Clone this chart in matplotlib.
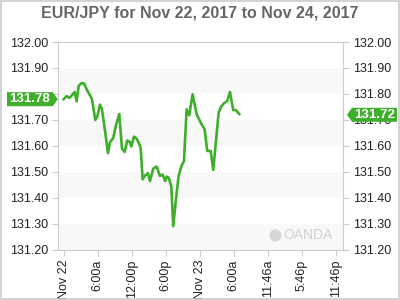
import matplotlib
matplotlib.use("Agg")
import matplotlib.pyplot as plt
from matplotlib.patches import Polygon, Rectangle
from matplotlib.transforms import blended_transform_factory
import numpy as np

plt.rcParams["font.family"] = ["Liberation Sans", "DejaVu Sans"]

# hours since Nov 22 00:00
hours = [0.0, 0.53, 0.99, 1.46, 1.94, 2.29, 2.65, 3.11, 3.58, 4.06, 4.64, 5.00,
         5.58, 5.93, 6.41, 6.76, 7.34, 7.82, 8.17, 8.75, 9.23, 9.81, 10.29, 10.76,
         11.22, 11.70, 11.93, 12.41, 12.88, 13.34, 13.59, 13.94, 14.40, 14.88, 15.23,
         15.81, 16.41, 16.99, 17.47, 17.93, 18.17, 18.52, 18.99, 19.34, 19.82, 20.29,
         20.75, 21.23, 21.70, 22.16, 22.76, 23.47, 24.18, 24.88, 25.34, 25.94, 26.40,
         27.35, 27.81, 28.29, 28.87, 29.35, 29.93, 30.40, 30.99]
rates = [131.780, 131.792, 131.785, 131.795, 131.808, 131.772, 131.831, 131.841,
         131.841, 131.818, 131.795, 131.780, 131.700, 131.713, 131.759, 131.741,
         131.652, 131.572, 131.614, 131.631, 131.680, 131.723, 131.590, 131.577,
         131.621, 131.615, 131.598, 131.636, 131.628, 131.608, 131.592, 131.472,
         131.487, 131.495, 131.465, 131.513, 131.521, 131.485, 131.490, 131.465,
         131.482, 131.478, 131.446, 131.292, 131.395, 131.485, 131.521, 131.542,
         131.741, 131.718, 131.799, 131.722, 131.690, 131.664, 131.581, 131.581,
         131.508, 131.728, 131.752, 131.764, 131.773, 131.808, 131.738, 131.738,
         131.723]

xtick_pos = [0, 6, 12, 18, 24, 30, 36, 42, 48]
xtick_labels = ["Nov 22", "6:00a", "12:00p", "6:00p", "Nov 23", "6:00a",
                "11:46a", "5:46p", "11:46p"]
yticks = [131.20, 131.30, 131.40, 131.50, 131.60, 131.70, 131.80, 131.90, 132.00]
bands = [(131.20, 131.30), (131.40, 131.50), (131.60, 131.70), (131.80, 131.90)]
first_label = "131.78"
last_label = "131.72"

green = "#3fae2a"
grid_col = "#cccccc"

fig = plt.figure(figsize=(4, 3), dpi=100)
ax = fig.add_axes([0.145, 0.1667, 0.7125, 0.6933])

for lo, hi in bands:
    ax.axhspan(lo, hi, color="#f8f8f8", zorder=0, lw=0)

ax.plot(hours, rates, color=green, lw=1.9, zorder=3)

ax.set_xlim(-1.0, 49.3)
ax.set_ylim(131.20, 132.00)
ax.set_xticks(xtick_pos)
ax.set_xticklabels(xtick_labels, rotation=90, fontsize=9, color="#222222")
ax.set_yticks(yticks)
ax.set_yticklabels(["%.2f" % v for v in yticks], fontsize=9, color="#222222")
ax.tick_params(axis="y", right=True, labelright=True, length=4, color=grid_col, pad=3)
ax.tick_params(axis="x", length=4, color=grid_col, pad=3)
for s in ax.spines.values():
    s.set_color(grid_col)
    s.set_linewidth(0.8)

# the left tag hides the 131.80 label, as in the original
fig.canvas.draw()
for t in ax.yaxis.get_major_ticks():
    if abs(t.get_loc() - 131.80) < 1e-6:
        t.label1.set_visible(False)

# value tags on each side
tr = blended_transform_factory(fig.transFigure, ax.transData)
h = 0.027
v0 = float(first_label)
left_tag = Polygon([(0.0175, v0 - h), (0.132, v0 - h), (0.1445, v0),
                    (0.132, v0 + h), (0.0175, v0 + h)], closed=True,
                   transform=tr, facecolor=green, edgecolor="none", clip_on=False)
fig.add_artist(left_tag)
fig.text(0.075, v0, first_label, transform=tr, ha="center", va="center",
         color="white", fontsize=9.5, fontweight="bold")

v1 = float(last_label)
right_tag = Polygon([(0.8675, v1), (0.88, v1 - h), (0.9925, v1 - h),
                     (0.9925, v1 + h), (0.88, v1 + h)], closed=True,
                    transform=tr, facecolor=green, edgecolor="none", clip_on=False)
fig.add_artist(right_tag)
fig.text(0.9375, v1, last_label, transform=tr, ha="center", va="center",
         color="white", fontsize=9.5, fontweight="bold")

# watermark
ax.scatter([0.76], [0.07], s=60, color="#d6d6d6", transform=ax.transAxes, zorder=2)
ax.text(0.79, 0.07, "OANDA", transform=ax.transAxes, ha="left", va="center",
        fontsize=10, color="#d0d0d0", zorder=2)

fig.text(0.5, 0.955, "EUR/JPY for Nov 22, 2017 to Nov 24, 2017", ha="center",
         va="center", fontsize=11.5, fontweight="bold", color="#666666")

fig.add_artist(Rectangle((0.002, 0.003), 0.996, 0.994, transform=fig.transFigure,
                         fill=False, edgecolor=grid_col, lw=1.2))

fig.savefig("out.png", dpi=100)
